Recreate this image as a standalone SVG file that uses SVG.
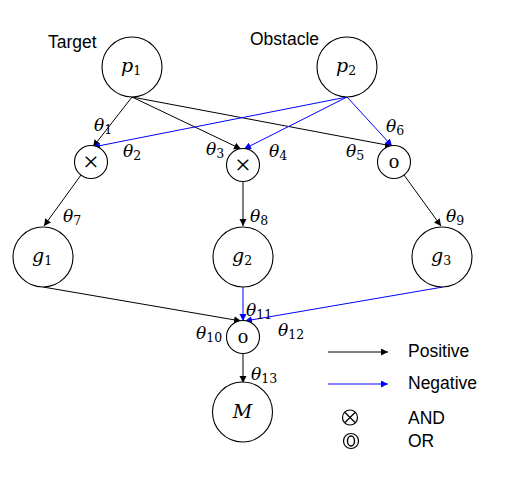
<svg xmlns="http://www.w3.org/2000/svg" width="519" height="481" viewBox="0 0 519 481">
<style>
.node{fill:#fff;stroke:#000;stroke-width:1.1}
.lbl{font-family:"Liberation Sans",Arial,sans-serif;font-size:17.5px;fill:#000}
.m{font-family:"DejaVu Serif","Liberation Serif",serif;font-style:italic;font-size:17px;fill:#000}
.n{font-family:"DejaVu Serif","Liberation Serif",serif;font-style:italic;font-size:19px;fill:#000}
.s{font-style:normal;font-size:12.5px}
.x{font-family:"Liberation Serif",serif;font-size:28px;fill:#000;text-anchor:middle}
.op{font-family:"Liberation Serif",serif;font-size:21px;fill:#000;text-anchor:middle}
.k{stroke:#000;stroke-width:1;fill:none}
.b{stroke:#0000ff;stroke-width:1;fill:none}
</style>
<defs>
<marker id="ak" markerUnits="userSpaceOnUse" markerWidth="8" markerHeight="8" refX="7" refY="3.5" orient="auto"><path d="M0,0 L7,3.5 L0,7 z" fill="#000"/></marker>
<marker id="ab" markerUnits="userSpaceOnUse" markerWidth="8" markerHeight="8" refX="7" refY="3.5" orient="auto"><path d="M0,0 L7,3.5 L0,7 z" fill="#0000ff"/></marker>
</defs>
<rect width="519" height="481" fill="#fff"/>

<g id="connectors">
<line class="k" x1="132" y1="97" x2="93" y2="147" marker-end="url(#ak)"/>
<line class="k" x1="132" y1="97" x2="241" y2="149" marker-end="url(#ak)"/>
<line class="k" x1="132" y1="97" x2="392" y2="146" marker-end="url(#ak)"/>
<line class="b" x1="347" y1="97" x2="93" y2="147" marker-end="url(#ab)"/>
<line class="b" x1="347" y1="97" x2="244" y2="149" marker-end="url(#ab)"/>
<line class="b" x1="347" y1="97" x2="392" y2="146" marker-end="url(#ab)"/>
<line class="k" x1="81" y1="175" x2="44" y2="226" marker-end="url(#ak)"/>
<line class="k" x1="243" y1="182" x2="243" y2="226" marker-end="url(#ak)"/>
<line class="k" x1="404" y1="175" x2="441" y2="226" marker-end="url(#ak)"/>
<line class="k" x1="43" y1="287" x2="241" y2="321" marker-end="url(#ak)"/>
<line class="b" x1="243" y1="287" x2="243" y2="321" marker-end="url(#ab)"/>
<line class="b" x1="443" y1="287" x2="245" y2="321" marker-end="url(#ab)"/>
<line class="k" x1="243" y1="354" x2="243" y2="383" marker-end="url(#ak)"/>
</g>

<g id="edge-labels">
<text class="m" x="94" y="131">θ<tspan class="s" dy="3">1</tspan></text>
<text class="m" x="123" y="157">θ<tspan class="s" dy="3">2</tspan></text>
<text class="m" x="206" y="155">θ<tspan class="s" dy="3">3</tspan></text>
<text class="m" x="269" y="157">θ<tspan class="s" dy="3">4</tspan></text>
<text class="m" x="346" y="157">θ<tspan class="s" dy="3">5</tspan></text>
<text class="m" x="386" y="132">θ<tspan class="s" dy="3">6</tspan></text>
<text class="m" x="63" y="222">θ<tspan class="s" dy="3">7</tspan></text>
<text class="m" x="250" y="222">θ<tspan class="s" dy="3">8</tspan></text>
<text class="m" x="446" y="222">θ<tspan class="s" dy="3">9</tspan></text>
<text class="m" x="196" y="339">θ<tspan class="s" dy="3">10</tspan></text>
<text class="m" x="246" y="316">θ<tspan class="s" dy="3">11</tspan></text>
<text class="m" x="278" y="336">θ<tspan class="s" dy="3">12</tspan></text>
<text class="m" x="251" y="380">θ<tspan class="s" dy="3">13</tspan></text>
</g>

<g id="target-label"><text class="lbl" x="48" y="48">Target</text></g>
<g id="obstacle-label"><text class="lbl" x="250" y="45">Obstacle</text></g>

<g id="p1"><circle class="node" cx="132" cy="67" r="30"/><text class="n" x="121" y="72">p<tspan class="s" dy="3">1</tspan></text></g>
<g id="p2"><circle class="node" cx="347" cy="67" r="30"/><text class="n" x="336" y="72">p<tspan class="s" dy="3">2</tspan></text></g>

<g id="and1"><circle class="node" cx="91" cy="162" r="16.5"/><text class="x" x="91" y="171">×</text></g>
<g id="and2"><circle class="node" cx="243" cy="165" r="16.5"/><text class="x" x="243" y="174">×</text></g>
<g id="or1"><circle class="node" cx="394" cy="162" r="16.5"/><text class="op" x="394" y="168">o</text></g>

<g id="g1"><circle class="node" cx="43" cy="257" r="30"/><text class="n" x="32" y="262">g<tspan class="s" dy="3">1</tspan></text></g>
<g id="g2"><circle class="node" cx="243" cy="257" r="30"/><text class="n" x="232" y="262">g<tspan class="s" dy="3">2</tspan></text></g>
<g id="g3"><circle class="node" cx="442" cy="257" r="30"/><text class="n" x="431" y="262">g<tspan class="s" dy="3">3</tspan></text></g>

<g id="or2"><circle class="node" cx="243" cy="337" r="16.5"/><text class="op" x="243" y="343">o</text></g>

<g id="M"><circle class="node" cx="242.5" cy="412" r="30"/><text class="n" x="242.5" y="418" text-anchor="middle">M</text></g>

<g id="legend">
<line class="k" x1="328" y1="352" x2="388" y2="352" marker-end="url(#ak)"/>
<text class="lbl" x="408" y="357">Positive</text>
<line class="b" x1="328" y1="384" x2="388" y2="384" marker-end="url(#ab)"/>
<text class="lbl" x="408" y="389">Negative</text>
<circle cx="350" cy="417.5" r="7.5" fill="none" stroke="#000" stroke-width="1.2"/>
<path d="M345,412.5 L355,422.5 M355,412.5 L345,422.5" stroke="#000" stroke-width="1.2" fill="none"/>
<text class="lbl" x="408" y="424">AND</text>
<circle cx="351" cy="441" r="7.5" fill="none" stroke="#000" stroke-width="1.2"/>
<ellipse cx="351" cy="441" rx="3.5" ry="5" fill="none" stroke="#000" stroke-width="1.4"/>
<text class="lbl" x="408" y="447">OR</text>
</g>
</svg>
